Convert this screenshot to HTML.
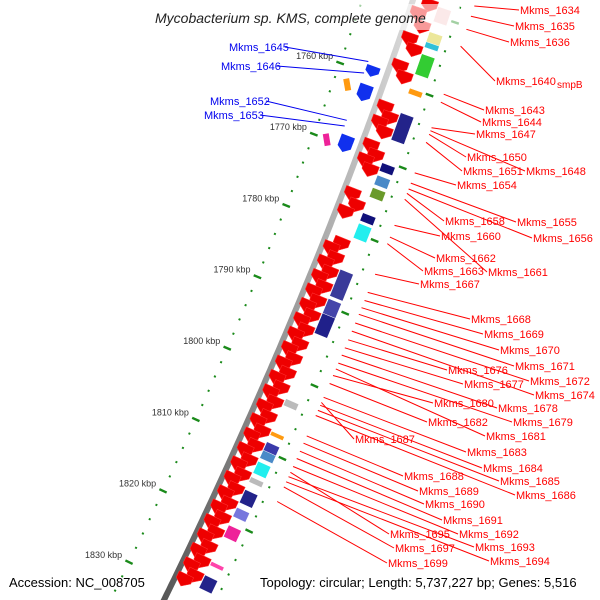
<!DOCTYPE html>
<html><head><meta charset="utf-8">
<style>
html,body{margin:0;padding:0;background:#fff;overflow:hidden;width:600px;height:600px;}
svg{display:block;font-family:"Liberation Sans",sans-serif;}
</style></head>
<body>
<svg id="chart" width="600" height="600" viewBox="0 0 600 600">
<defs>
<linearGradient id="bb" x1="0" y1="0" x2="1" y2="0">
<stop offset="0" stop-color="#555"/><stop offset="0.5" stop-color="#999"/><stop offset="1" stop-color="#ddd"/>
</linearGradient>
</defs>
<g id="layer"></g>
<rect x="150" y="4" width="310" height="26" fill="#fff" opacity="0.6"/>
<text x="155" y="23" font-size="14" font-style="italic" fill="#222">Mycobacterium sp. KMS, complete genome</text>
<text x="9" y="587" font-size="13" fill="#000">Accession: NC_008705</text>
<text x="260" y="587" font-size="13" fill="#000">Topology: circular; Length: 5,737,227 bp; Genes: 5,516</text>
</svg>
<script>
// ---- data ----
const tickKbp = [1750,1760,1770,1780,1790,1800,1810,1820,1830,1840];
const tickLabels = ["1750 kbp","1760 kbp","1770 kbp","1780 kbp","1790 kbp","1800 kbp","1810 kbp","1820 kbp","1830 kbp","1840 kbp"];
const redGenes = [1747.5,1749,1750.5,1752,1754,1755.2,1757.8,1759,1763.5,1764.6,1765.6,1766.6,1768.8,1769.8,1770.8,1771.8,1775.5,1776.7,1778,1782,1783,1784,1785,1786,1787,1788,1789,1790,1791,1792,1793,1794,1795,1796,1797,1798,1799,1800,1801,1802,1803,1804,1805,1806,1807,1808,1809,1810,1811,1812,1813,1814,1815,1816,1817,1818,1819,1820,1821,1822,1823,1824,1825,1826,1827,1828,1829];
const blueGenes = [1759.6,1762.2,1763,1769.3,1770.1];
const boxKbp   = [1748.7,1752.2,1753.6,1755.2,1760,1763.3,1770.3,1772,1773.7,1777.2,1778.6,1784.9,1789,1791,1802.9,1807.4,1808.8,1810,1811.5,1813.7,1815.4,1817.9,1820.3,1825.4,1827.2];
const boxLen   = [2.2,1.6,0.8,3.0,0.8,4.0,1.2,1.4,1.4,1.2,2.2,4.0,2.4,3.0,1.0,0.6,2.0,1.2,1.8,0.8,2.0,1.4,1.8,0.6,2.0];
const boxColor = ["#f4c8c8","#ece79a","#30c0d8","#33cc33","#ff9a10","#23238a","#10107a","#4a8ac8","#6a9a2a","#10107a","#22eeee","#3a3a9a","#4444aa","#20208a","#bbbbbb","#ff9a10","#3a3aaa","#4a8ac8","#22eeee","#bbbbbb","#23238a","#7777dd","#ee2299","#ff44aa","#23238a"];
const leftBoxKbp = [1762.4,1770.1];
const leftBoxColor = ["#ff9a10","#ee2299"];
const labelNames = ["Mkms_1634","Mkms_1635","Mkms_1636","Mkms_1640","Mkms_1643","Mkms_1644","Mkms_1647","Mkms_1648","Mkms_1650","Mkms_1651","Mkms_1654","Mkms_1655","Mkms_1656","Mkms_1658","Mkms_1661","Mkms_1660","Mkms_1662","Mkms_1663","Mkms_1667","Mkms_1668","Mkms_1669","Mkms_1670","Mkms_1671","Mkms_1672","Mkms_1674","Mkms_1676","Mkms_1677","Mkms_1678","Mkms_1679","Mkms_1681","Mkms_1680","Mkms_1682","Mkms_1683","Mkms_1687","Mkms_1684","Mkms_1685","Mkms_1686","Mkms_1688","Mkms_1689","Mkms_1690","Mkms_1691","Mkms_1692","Mkms_1695","Mkms_1693","Mkms_1694","Mkms_1697","Mkms_1699"];
const labelAnchor = [1747.2,1748.6,1750.4,1752.7,1759.3,1760.4,1763.9,1764.3,1764.8,1765.9,1770.1,1771.5,1772.3,1772.9,1773.7,1777.3,1778.9,1779.8,1784.0,1786.5,1787.6,1788.6,1789.5,1790.7,1791.8,1793.0,1794.1,1795.1,1796.2,1797.0,1797.9,1799.0,1800.9,1801.6,1802.0,1802.7,1803.4,1806.2,1807.2,1808.3,1809.3,1810.4,1811.2,1811.8,1812.5,1813.2,1815.2];
const labelX = [520,515,510,496,485,482,476,526,467,463,457,517,533,445,488,441,436,424,420,471,484,500,515,530,535,448,464,498,513,486,434,428,467,355,483,500,516,404,419,425,443,459,390,475,490,395,388];
const labelY = [10,26,42,81,110,122,134,171,157,171,185,222,238,221,272,236,258,271,284,319,334,350,366,381,395,370,384,408,422,436,403,422,452,439,468,481,495,476,491,504,520,534,534,547,561,548,563];
const blueLabelNames = ["Mkms_1645","Mkms_1646","Mkms_1652","Mkms_1653"];
const blueLabelAnchor = [1758.6,1760.2,1766.8,1767.6];
const blueLabelX = [229,221,210,204];
const blueLabelY = [47,66,101,115];

// ---- geometry ----
const NS="http://www.w3.org/2000/svg";
const layer=document.getElementById('layer');
function yOf(k){return 79+7.2*(k-1760);}
function xOf(y){return 413-0.34*y-0.000125*y*y;}
function pt(k,off){const y=yOf(k);const d=-0.34-0.00025*y;const n=Math.sqrt(1+d*d);return [xOf(y)+off/n, y-off*d/n];}
function ang(k){const y=yOf(k);const d=-0.34-0.00025*y;return Math.atan2(1,d)*180/Math.PI-90;}
function mk(tag,attrs,parent){const e=document.createElementNS(NS,tag);for(const a in attrs)e.setAttribute(a,attrs[a]);(parent||layer).appendChild(e);return e;}

// backbone
let dpath="";for(let y=-10;y<=610;y+=5){dpath+=(y===-10?"M":"L")+xOf(y).toFixed(1)+","+y;}
let bb=mk('path',{d:dpath,fill:'none',stroke:'url(#bb)','stroke-width':6});



// dotted rings
for(let k=1744;k<=1840;k+=2){
  for(const off of [-48,47]){
    const p=pt(k,off);
    if(p[1]>598||p[1]<1) continue;
    const isT=(k%10===0);
    const r=mk('rect',{x:-(isT?4:1),y:-1,width:isT?8:2,height:isT?2.4:2,fill:'#1a8a1a',transform:`translate(${p[0].toFixed(1)},${p[1].toFixed(1)}) rotate(${ang(k).toFixed(1)})`});
    
    
  }
}
// tick labels
tickKbp.forEach((k,i)=>{const p=pt(k,-48);
  if(p[1]>575||p[1]<40) return;
  const t=mk('text',{x:(p[0]-7).toFixed(1),y:(p[1]-4).toFixed(1),'font-size':9,'text-anchor':'end',fill:'#333'});
  t.textContent=tickLabels[i];
  
  
});
// red genes
redGenes.forEach((k,i)=>{const off=(i%2?17:9);const p=pt(k,off);
  const g=mk('polygon',{points:"-8,-6 8,-6 8,1 0,7 -8,1",fill:'#ee0000',stroke:'#ff3333','stroke-width':0.5,transform:`translate(${p[0].toFixed(1)},${p[1].toFixed(1)}) rotate(${ang(k).toFixed(1)})`});
  
  
});
// blue genes
blueGenes.forEach((k)=>{const p=pt(k,-15);
  const g=mk('polygon',{points:"-7,-5 7,-5 7,1 0,6 -7,1",fill:'#1030ee',transform:`translate(${p[0].toFixed(1)},${p[1].toFixed(1)}) rotate(${ang(k).toFixed(1)})`});
  
  
});
// feature boxes
boxKbp.forEach((k,i)=>{const L=boxLen[i]*7.2;const p=pt(k+boxLen[i]/2,33);
  const b=mk('rect',{x:-7,y:-L/2,width:14,height:L,fill:boxColor[i],stroke:'#fff','stroke-width':0.5,transform:`translate(${p[0].toFixed(1)},${p[1].toFixed(1)}) rotate(${ang(k).toFixed(1)})`});
  
  
});
leftBoxKbp.forEach((k,i)=>{const p=pt(k,-34);
  const b=mk('rect',{x:-6,y:-3,width:12,height:6,fill:leftBoxColor[i],transform:`translate(${p[0].toFixed(1)},${p[1].toFixed(1)}) rotate(${(ang(k)+60).toFixed(1)})`});
  
  
});
// red labels
labelNames.forEach((n,i)=>{const p=pt(labelAnchor[i],60);
  const l=mk('line',{x1:p[0].toFixed(1),y1:p[1].toFixed(1),x2:labelX[i]-1,y2:labelY[i],stroke:'#ff0000','stroke-width':1});
  
  
  const t=mk('text',{x:labelX[i],y:labelY[i]+4,'font-size':11,fill:'#ff0000'});
  t.textContent=n;
  
  
});
const sm=mk('text',{x:557,y:88,'font-size':10,fill:'#ff0000'});sm.textContent="smpB";


// blue labels
blueLabelNames.forEach((n,i)=>{const p=pt(blueLabelAnchor[i],-22);
  const tw=n.length*6.1;
  const l=mk('line',{x1:blueLabelX[i]+tw+1,y1:blueLabelY[i],x2:p[0].toFixed(1),y2:p[1].toFixed(1),stroke:'#0000ee','stroke-width':1});
  
  
  const t=mk('text',{x:blueLabelX[i],y:blueLabelY[i]+4,'font-size':11,fill:'#0000ee'});
  t.textContent=n;
  
  
});
</script>
</body></html>
